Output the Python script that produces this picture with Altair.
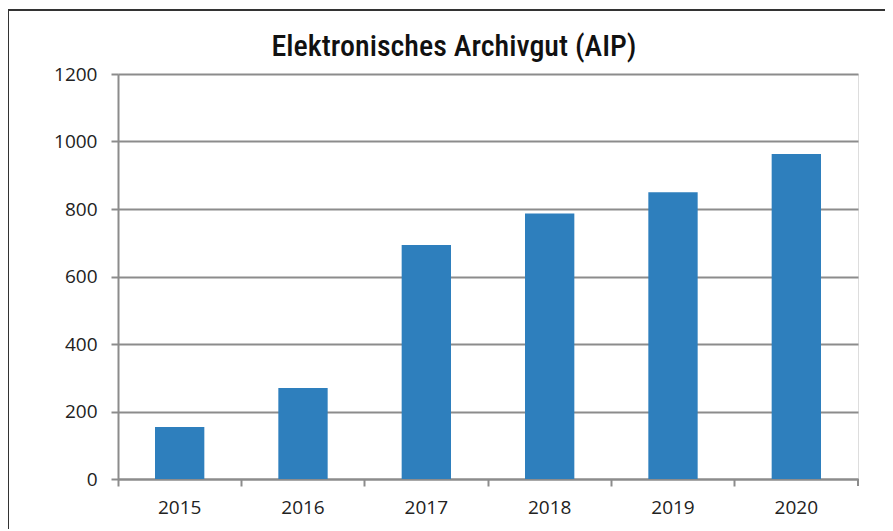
import altair as alt
import pandas as pd

years = ["2015", "2016", "2017", "2018", "2019", "2020"]
values = [154, 270, 693, 787, 850, 963]
y_ticks = [0, 200, 400, 600, 800, 1000, 1200]
title_text = "Elektronisches Archivgut (AIP)"

df = pd.DataFrame({"Jahr": years, "AIP": values})

W, H = 740, 405
FONT = "Open Sans"

x_enc = alt.X(
    "Jahr:N",
    sort=years,
    title=None,
    scale=alt.Scale(paddingInner=0, paddingOuter=0),
    axis=alt.Axis(
        bandPosition=0,
        labelAngle=0,
        labelFont=FONT,
        labelFontSize=19,
        labelColor="#222222",
        labelPadding=12,
        domainColor="#8c8c8c",
        domainWidth=2,
        tickColor="#8c8c8c",
        tickWidth=2,
        tickSize=7,
        grid=False,
    ),
)

bars = alt.Chart(df).mark_bar(color="#2e7fbd", width={"band": 0.4}).encode(
    x=x_enc,
    y=alt.Y(
        "AIP:Q",
        title=None,
        scale=alt.Scale(domain=[0, 1200], nice=False),
        axis=alt.Axis(
            values=y_ticks,
            format="d",
            labelFont=FONT,
            labelFontSize=19,
            labelColor="#222222",
            labelPadding=14,
            domainColor="#8c8c8c",
            domainWidth=2,
            tickColor="#8c8c8c",
            tickWidth=2,
            tickSize=7,
            grid=True,
            gridColor="#8c8c8c",
            gridWidth=2,
        ),
    ),
)

one = pd.DataFrame({"t": [title_text]})

# closing tick at the right end of the category axis
end_tick = alt.Chart(one).mark_rule(color="#8c8c8c", strokeWidth=2).encode(
    x=alt.value(W), y=alt.value(H), y2=alt.value(H + 7)
)

# frame lines (top and left) of the original figure
frame_top = alt.Chart(one).mark_rule(color="#333333", strokeWidth=2).encode(
    x=alt.value(-113), x2=alt.value(W + 30), y=alt.value(-64)
)
frame_left = alt.Chart(one).mark_rule(color="#333333", strokeWidth=2).encode(
    x=alt.value(-110), y=alt.value(-64), y2=alt.value(H + 60)
)

title = alt.Chart(one).mark_text(
    font="Roboto Condensed, DejaVu Sans Condensed, Roboto",
    fontSize=30,
    fontWeight=500,
    color="#111111",
    align="center",
    baseline="alphabetic",
).encode(x=alt.value(336), y=alt.value(-18), text="t:N")

chart = (
    alt.layer(bars, end_tick, frame_top, frame_left, title)
    .properties(
        width=W,
        height=H,
        autosize=alt.AutoSizeParams(type="none"),
        padding={"left": 110, "top": 66, "right": 27, "bottom": 50},
    )
    .configure_view(stroke=None)
    .configure(background="white")
)

chart.save("out.html", embed_options={"renderer": "svg", "actions": False})
